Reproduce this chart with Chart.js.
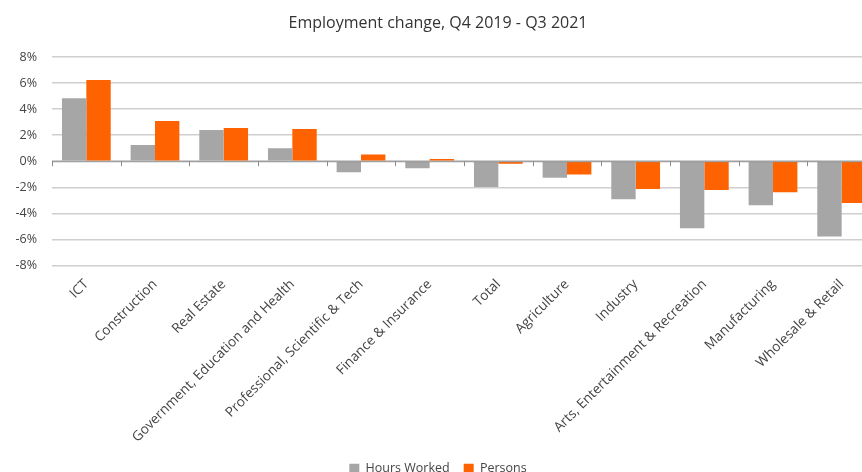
<!DOCTYPE html>
<html>
<head>
<meta charset="utf-8">
<script src="https://cdn.jsdelivr.net/npm/chart.js@4/dist/chart.umd.min.js"></script>
<style>
  html, body { margin: 0; padding: 0; background: #fff; overflow: hidden; }
  #wrap { width: 896px; height: 485px; }
</style>
</head>
<body>
<div id="wrap"><canvas id="chart"></canvas></div>
<script>
// ===== Data =====
const categories = [
  "ICT", "Construction", "Real Estate", "Government, Education and Health",
  "Professional, Scientific & Tech", "Finance & Insurance", "Total", "Agriculture",
  "Industry", "Arts, Entertainment & Recreation", "Manufacturing", "Wholesale & Retail"
];
const hoursWorked = [4.85, 1.25, 2.4, 1.0, -0.84, -0.53, -1.98, -1.27, -2.93, -5.15, -3.39, -5.78];
const persons = [6.25, 3.1, 2.55, 2.48, 0.51, 0.18, -0.2, -1.02, -2.14, -2.21, -2.39, -3.21];
const yMin = -8, yMax = 8, yStep = 2;

const FONT = "'Open Sans', 'Noto Sans', sans-serif";

// small tick marks on the zero line between categories
const zeroTicks = {
  id: "zeroTicks",
  afterDatasetsDraw(chart) {
    const { ctx, scales: { x, y }, chartArea } = chart;
    const y0 = y.getPixelForValue(0);
    const step = x.getPixelForValue(1) - x.getPixelForValue(0);
    ctx.save();
    ctx.strokeStyle = "#8c8c8c";
    ctx.lineWidth = 1;
    ctx.beginPath();
    for (let i = 0; i <= categories.length; i++) {
      const px = Math.round(x.getPixelForValue(0) - step / 2 + i * step) + 0.5;
      ctx.moveTo(px, y0);
      ctx.lineTo(px, y0 + 5);
    }
    ctx.moveTo(chartArea.left, y0 + 0.5);
    ctx.lineTo(chartArea.right, y0 + 0.5);
    ctx.stroke();
    ctx.restore();
  }
};

new Chart(document.getElementById("chart"), {
  type: "bar",
  data: {
    labels: categories,
    datasets: [
      { label: "Hours Worked", data: hoursWorked, backgroundColor: "#a6a6a6" },
      { label: "Persons", data: persons, backgroundColor: "#ff6200" }
    ]
  },
  options: {
    responsive: true,
    maintainAspectRatio: false,
    animation: false,
    datasets: { bar: { categoryPercentage: 0.71, barPercentage: 1.0 } },
    layout: { padding: { left: 0, right: 20, top: 4, bottom: 0 } },
    plugins: {
      title: {
        display: true,
        text: "Employment change, Q4 2019 - Q3 2021",
        color: "#333",
        font: { family: FONT, size: 16, weight: "normal" },
        padding: { top: 10, bottom: 24 }
      },
      legend: {
        position: "bottom",
        labels: {
          color: "#444",
          font: { family: FONT, size: 12.5 },
          boxWidth: 10,
          boxHeight: 10,
          padding: 14
        }
      },
      tooltip: { enabled: false }
    },
    scales: {
      x: {
        grid: { display: false },
        border: { display: false },
        ticks: {
          color: "#444",
          font: { family: FONT, size: 13.6 },
          minRotation: 45,
          maxRotation: 45,
          autoSkip: false
        }
      },
      y: {
        min: yMin,
        max: yMax,
        afterFit: s => { s.width = 52; },
        border: { display: false },
        grid: { color: "#cfcfcf", lineWidth: 1.5, drawTicks: false },
        ticks: {
          stepSize: yStep,
          color: "#444",
          padding: 15,
          font: { family: FONT, size: 12.5 },
          callback: v => v + "%"
        }
      }
    }
  },
  plugins: [zeroTicks]
});
</script>
</body>
</html>
